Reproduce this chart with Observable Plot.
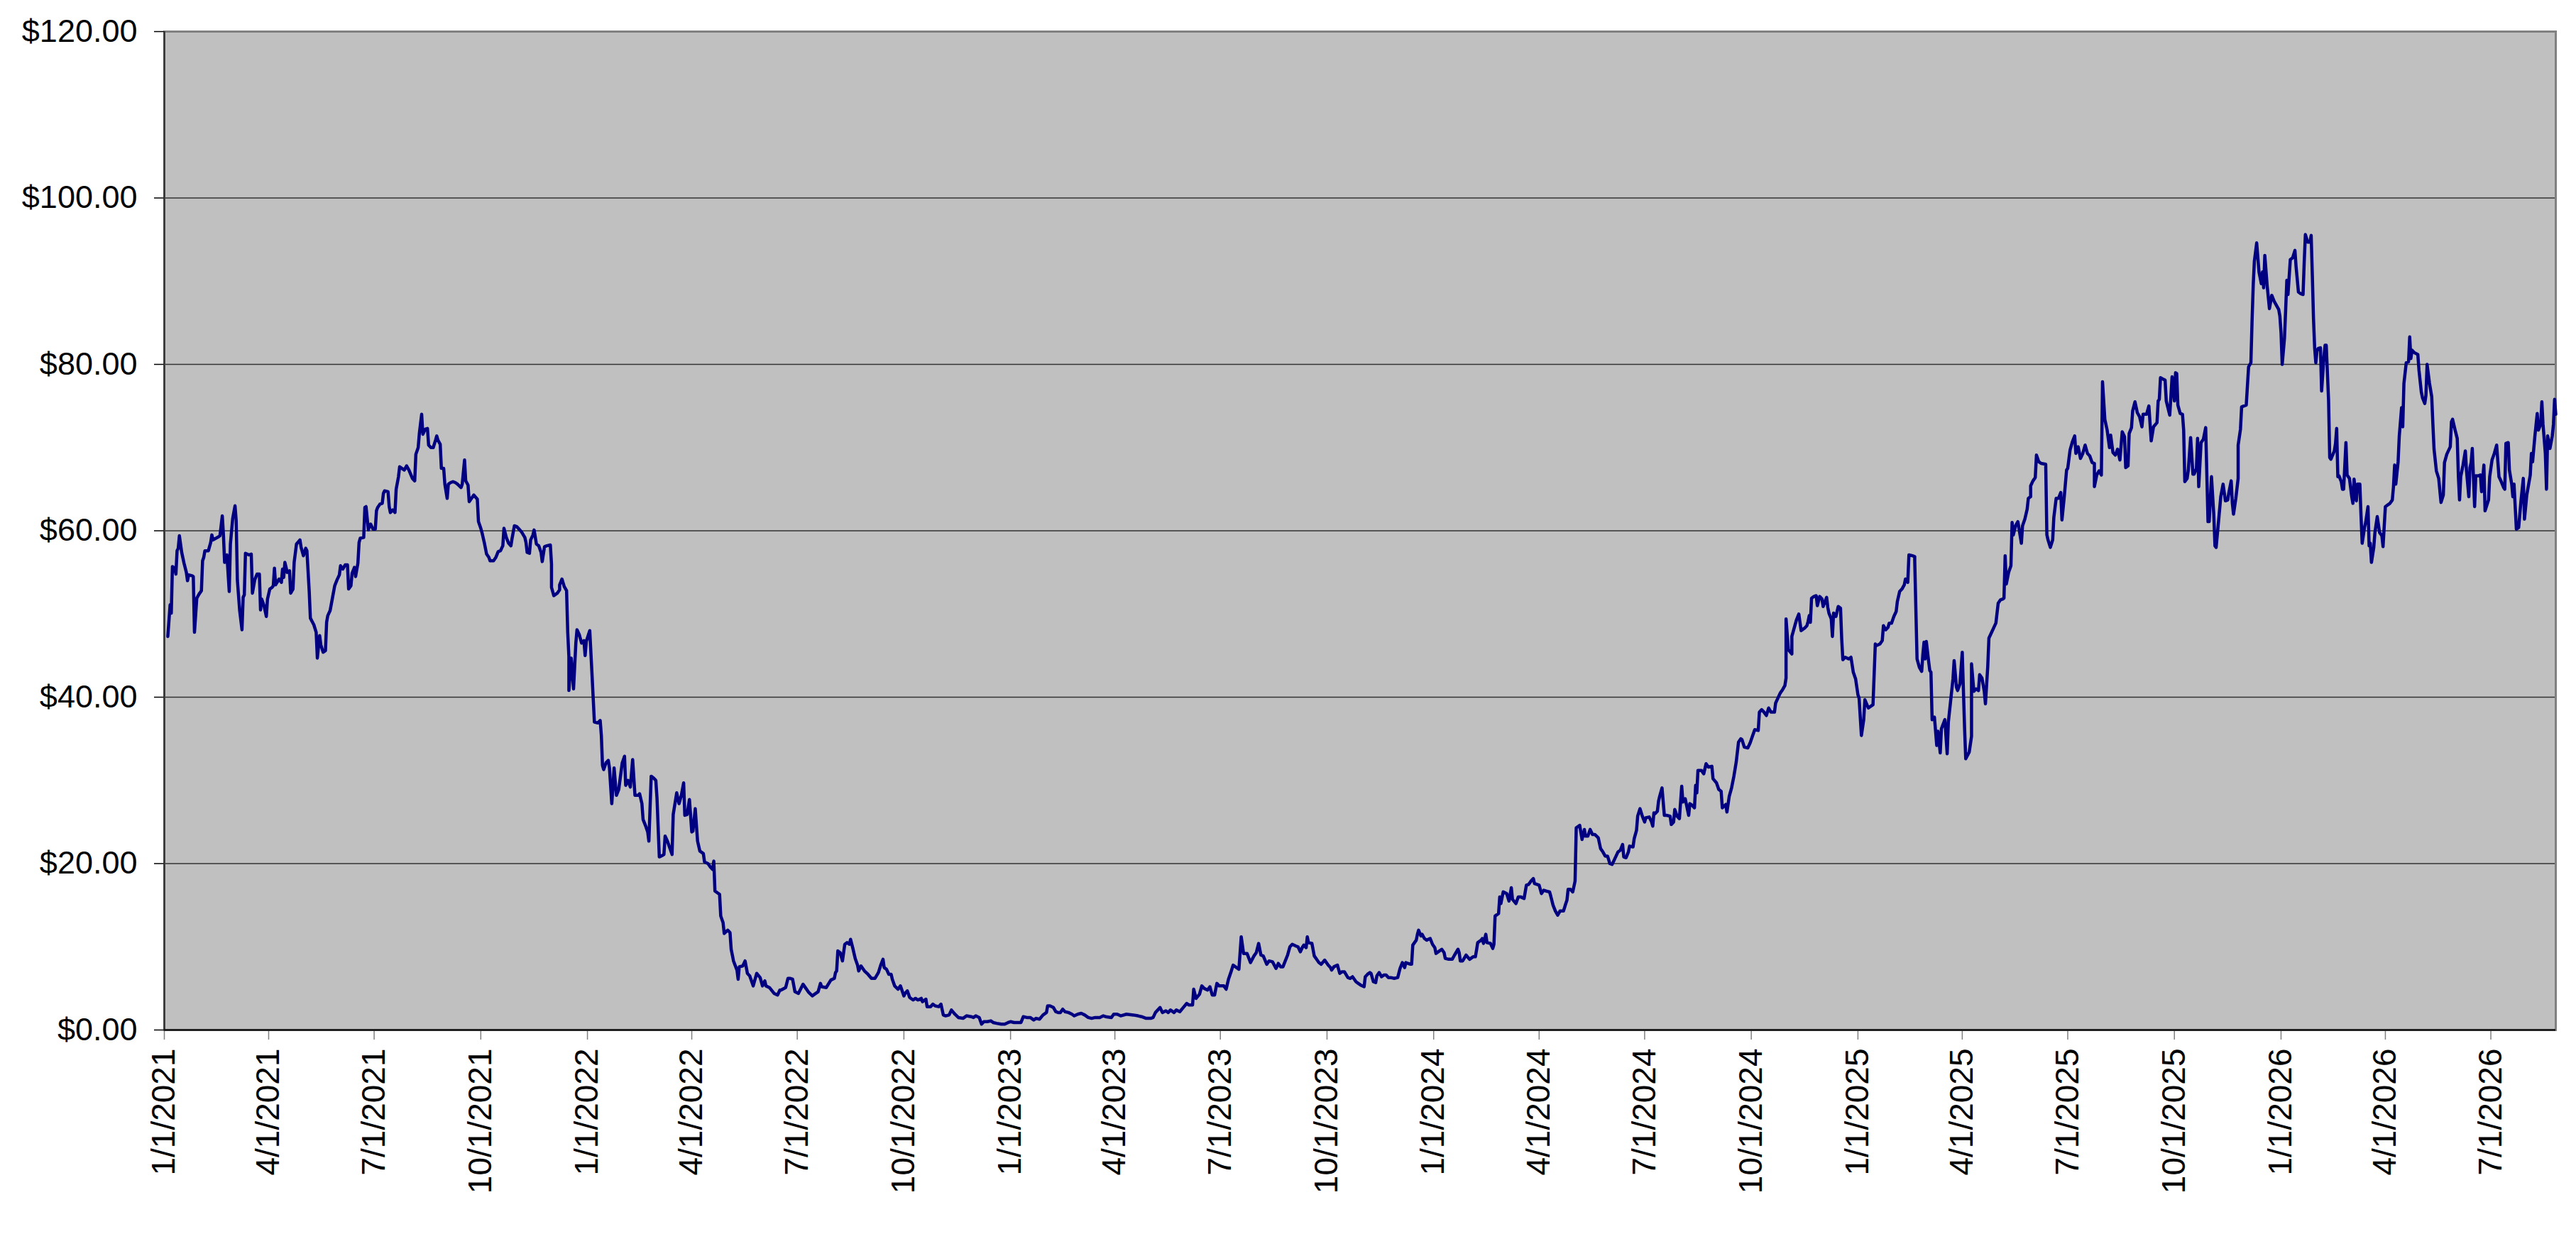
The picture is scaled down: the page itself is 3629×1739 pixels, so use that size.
<!DOCTYPE html>
<html>
<head>
<meta charset="utf-8">
<script src="https://cdn.jsdelivr.net/npm/d3@7"></script>
<script src="https://cdn.jsdelivr.net/npm/@observablehq/plot@0.6"></script>
<style>
  html, body { margin: 0; padding: 0; background: #ffffff; }
  #chart svg { display: block; }
</style>
</head>
<body>
<div id="chart"></div>
<script>
// Series start: days are counted from 1/1/2021
const seriesStart = "2021-01-01";
const axisEnd = "2026-08-26";

// Days since 1/1/2021 (x values)
const dayOffsets = [
3,5,6,7,9,10,11,12,13,15,
17,19,20,21,24,25,26,28,30,32,
33,34,35,38,40,41,42,47,48,50,
51,52,54,56,57,59,61,62,63,65,
67,68,69,70,73,75,76,78,80,82,
83,84,86,88,89,91,93,94,95,96,
99,101,102,103,104,106,108,109,111,112,
114,117,118,120,122,123,125,126,129,131,
132,134,135,137,139,140,141,143,145,147,
149,151,152,154,156,158,159,161,162,164,
165,167,168,169,172,173,174,176,177,178,
180,182,183,184,186,188,189,190,193,194,
195,197,199,200,202,203,205,207,209,211,
214,216,217,219,220,222,223,225,227,228,
230,232,234,235,236,238,239,241,242,244,
245,247,249,251,253,256,257,259,260,262,
263,265,267,270,271,273,274,276,278,280,
281,284,286,288,290,292,293,295,297,299,
300,302,304,306,308,311,312,313,315,316,
318,319,321,323,325,326,328,330,333,334,
334,336,339,341,341,343,345,347,348,349,
349,351,353,355,356,358,360,362,363,364,
367,369,370,371,374,376,377,378,379,381,
383,384,386,387,388,390,392,395,397,398,
400,402,404,406,409,410,412,413,415,417,
418,420,422,424,425,427,430,431,432,434,
436,438,439,442,444,446,448,449,451,453,
455,456,458,460,462,465,466,469,471,473,
474,475,477,479,480,482,483,486,488,489,
491,494,495,496,499,501,503,505,508,511,
514,516,518,519,522,526,529,531,532,536,
538,540,542,544,547,551,552,556,559,562,
564,566,567,571,575,578,579,580,581,583,
585,587,589,591,592,594,596,598,599,601,
604,607,610,613,616,618,620,621,623,625,
627,628,630,633,635,638,639,641,643,646,
648,650,653,654,657,658,661,663,665,668,
670,672,674,677,679,682,685,689,692,696,
698,700,703,705,707,710,713,715,718,722,
725,728,730,733,736,739,741,744,747,750,
752,755,758,761,762,764,767,769,771,773,
775,777,780,783,785,788,791,794,797,800,
803,807,810,812,817,819,822,825,830,836,
840,843,847,851,853,855,859,861,864,866,
868,871,873,876,879,882,884,887,888,890,
893,895,897,900,902,904,906,908,910,912,
914,916,918,920,922,925,927,929,931,934,
937,940,942,944,946,948,951,953,956,959,
961,963,965,967,969,971,973,976,978,980,
982,983,985,986,987,990,992,994,996,998,
1001,1004,1006,1007,1009,1012,1014,1016,1018,1021,
1023,1025,1026,1028,1030,1032,1035,1036,1038,1040,
1041,1043,1045,1046,1048,1050,1052,1054,1056,1058,
1061,1064,1066,1068,1070,1071,1075,1076,1077,1080,
1081,1082,1084,1085,1087,1089,1092,1094,1096,1097,
1100,1102,1104,1105,1108,1111,1113,1116,1117,1118,
1120,1123,1126,1129,1131,1132,1133,1136,1137,1138,
1140,1141,1144,1146,1147,1148,1151,1152,1153,1155,
1158,1160,1162,1163,1166,1168,1170,1173,1175,1177,
1179,1181,1182,1186,1188,1190,1192,1195,1196,1198,
1200,1202,1204,1207,1209,1210,1211,1213,1215,1217,
1218,1220,1221,1223,1225,1226,1228,1230,1232,1234,
1237,1239,1241,1243,1245,1247,1249,1252,1254,1256,
1258,1259,1261,1263,1264,1267,1268,1270,1271,1273,
1275,1277,1278,1281,1283,1284,1285,1286,1288,1289,
1290,1292,1294,1296,1299,1300,1302,1303,1305,1307,
1309,1310,1312,1315,1316,1318,1320,1321,1322,1323,
1326,1328,1330,1332,1335,1336,1339,1341,1343,1344,
1347,1348,1350,1352,1354,1356,1358,1360,1361,1363,
1366,1368,1370,1372,1375,1376,1378,1380,1382,1384,
1386,1389,1390,1392,1394,1396,1398,1399,1399,1401,
1404,1404,1406,1408,1410,1412,1415,1417,1418,1419,
1420,1421,1423,1425,1426,1428,1430,1431,1434,1435,
1436,1438,1439,1440,1442,1444,1446,1447,1448,1450,
1453,1455,1457,1459,1461,1462,1464,1466,1467,1470,
1472,1474,1476,1477,1480,1482,1483,1485,1487,1488,
1490,1492,1494,1495,1497,1499,1501,1502,1504,1505,
1508,1510,1510,1512,1514,1516,1517,1518,1519,1520,
1522,1523,1524,1525,1527,1529,1530,1532,1533,1536,
1538,1539,1541,1543,1544,1546,1547,1549,1551,1553,
1554,1557,1559,1559,1561,1563,1565,1566,1568,1570,
1571,1573,1574,1576,1579,1580,1582,1584,1586,1587,
1588,1589,1591,1593,1594,1595,1597,1599,1602,1603,
1605,1607,1608,1610,1610,1612,1614,1615,1617,1619,
1623,1624,1625,1627,1629,1630,1632,1634,1636,1637,
1639,1641,1642,1644,1646,1648,1649,1651,1653,1655,
1657,1659,1661,1663,1665,1665,1667,1669,1671,1672,
1674,1676,1678,1679,1681,1683,1685,1687,1689,1691,
1692,1694,1695,1697,1698,1700,1702,1704,1706,1707,
1710,1712,1714,1716,1719,1720,1721,1722,1726,1727,
1730,1732,1734,1735,1736,1737,1739,1741,1742,1743,
1745,1746,1748,1750,1751,1753,1754,1755,1757,1759,
1761,1763,1764,1766,1768,1769,1770,1772,1774,1776,
1778,1780,1781,1783,1784,1785,1787,1789,1789,1791,
1792,1796,1797,1798,1800,1801,1802,1803,1805,1807,
1809,1810,1811,1812,1814,1816,1818,1820,1824,1825,
1826,1827,1829,1830,1831,1832,1834,1836,1838,1839,
1841,1843,1845,1846,1847,1849,1851,1852,1853,1854,
1855,1856,1857,1858,1860,1861,1863,1864,1865,1867,
1868,1869,1872,1873,1874,1875,1876,1878,1879,1880,
1882,1883,1885,1887,1888,1889,1891,1892,1894,1895,
1896,1898,1899,1901,1902,1903,1904,1906,1907,1909,
1911,1913,1914,1916,1918,1920,1922,1923,1924,1925,
1927,1928,1930,1931,1932,1934,1936,1937,1938,1939,
1941,1944,1945,1947,1948,1950,1951,1952,1954,1956,
1957,1958,1960,1962,1964,1966,1967,1969,1972,1973,
1974,1976,1978,1979,1980,1981,1983,1985,1986,1988,
1989,1990,1991,1993,1994,1996,1998,1999,2001,2002,
2005,2006,2008,2010,2012,2014,2016,2018,2019,2020,
2022,2023,2025,2026,2027,2029,2031,2033,2035,2036,
2038,2041,2042,2043,2045,2047,2048,2050,2051,2052,
2054,2055,2056,2058,2060,2061,2062,2063
];

// Price in dollars at each of those days
const prices = [
47.3,51.1,50.1,55.7,55.5,54.8,57.6,57.9,59.4,57.4,
56.1,55.0,54.0,54.7,54.6,54.5,47.8,51.9,52.4,52.8,
56.4,56.8,57.6,57.6,58.6,59.5,58.9,59.3,59.4,61.8,
59.5,56.2,57.1,52.7,58.4,61.5,63.0,61.2,54.1,50.4,
48.1,52.0,52.3,57.3,57.1,57.2,52.5,54.1,54.8,54.8,
50.5,51.8,51.0,49.7,51.8,53.0,53.2,53.4,55.5,53.5,
54.2,53.8,55.4,54.4,56.2,55.0,55.2,52.5,53.0,56.2,
58.4,58.9,58.0,57.0,57.9,57.6,52.7,49.5,48.7,47.8,
44.7,47.4,46.3,45.4,45.6,49.0,49.8,50.4,51.9,53.4,
54.1,54.7,55.8,55.4,55.9,55.9,53.0,53.4,54.9,55.6,
54.5,56.1,58.6,59.1,59.2,62.8,62.9,60.1,60.6,60.8,
60.2,60.2,62.4,62.8,63.2,63.3,64.5,64.8,64.7,62.9,
62.2,62.5,62.2,65.0,66.5,67.7,67.5,67.3,67.8,67.3,
66.3,66.0,69.2,70.0,71.7,74.0,71.6,72.2,72.3,70.3,
70.0,70.0,70.9,71.4,70.9,70.4,67.5,67.5,65.6,63.9,
65.6,65.8,65.9,65.8,65.6,65.2,65.6,68.5,66.0,65.5,
63.5,63.9,64.3,63.8,61.1,60.3,59.8,58.6,57.2,56.8,
56.4,56.4,56.8,57.5,57.6,58.2,60.3,59.2,58.5,58.2,
59.1,60.6,60.5,60.2,59.9,59.2,58.6,57.4,57.3,58.9,
59.5,60.1,58.4,58.2,57.4,56.3,58.1,58.2,58.3,56.0,
53.2,52.2,52.5,52.9,53.5,54.2,53.3,52.8,47.8,44.9,
40.8,44.7,41.0,46.5,48.1,47.5,46.5,46.8,45.0,46.7,
48.0,42.6,39.8,37.0,36.9,37.2,35.4,31.8,31.3,32.1,
32.4,31.5,27.2,29.2,31.5,28.2,28.9,32.1,32.9,29.4,
30.0,29.2,32.5,28.2,28.2,28.4,27.2,25.3,24.6,23.8,
22.7,30.5,30.3,30.0,27.9,20.8,21.0,21.1,23.3,22.7,
21.9,21.1,25.9,28.5,27.2,28.2,29.7,25.8,25.9,27.7,
23.8,23.9,26.6,22.7,21.5,21.2,20.2,20.0,19.6,19.3,
20.3,16.7,16.5,16.3,13.7,12.9,11.6,12.0,11.7,9.7,
8.3,7.2,6.1,7.6,7.7,8.3,6.8,6.5,5.3,6.8,
6.3,5.3,5.9,5.3,5.1,4.4,4.2,4.8,4.8,5.1,
6.2,6.2,6.1,4.6,4.4,5.5,5.3,4.5,4.1,4.4,
4.6,5.6,5.2,5.1,6.0,6.2,6.9,7.1,9.5,9.3,
8.3,10.3,10.5,10.3,10.9,9.8,8.6,7.8,7.1,7.7,
7.1,6.7,6.2,6.2,6.9,7.8,8.5,7.5,7.3,6.7,
6.7,6.1,5.3,4.9,5.3,4.1,4.4,4.7,3.9,3.6,
3.8,3.6,3.8,3.4,3.7,2.8,2.8,3.1,2.9,2.8,
3.1,1.8,1.7,1.8,2.4,1.9,1.5,1.4,1.7,1.6,
1.5,1.7,1.5,0.7,1.0,1.0,1.1,0.9,0.8,0.7,
0.7,0.9,1.0,0.9,0.9,0.9,1.6,1.5,1.5,1.2,
1.4,1.3,1.8,2.1,2.9,2.9,2.7,2.2,2.1,2.1,
2.5,2.2,2.1,1.9,1.7,1.9,2.0,1.8,1.5,1.4,
1.5,1.5,1.7,1.6,1.5,1.9,1.9,1.7,1.9,1.8,
1.7,1.6,1.4,1.4,1.5,2.1,2.7,2.1,2.3,2.1,
2.4,2.1,2.4,2.2,2.7,3.2,3.0,3.0,4.9,3.8,
4.3,5.3,5.0,4.8,5.2,4.2,4.2,5.6,5.3,5.3,
5.3,4.9,6.1,6.9,7.8,7.5,7.3,11.2,9.2,9.2,
8.1,8.9,9.3,10.4,9.0,8.9,7.9,8.3,8.2,7.4,
8.0,7.6,7.6,8.3,9.0,10.0,10.3,10.1,10.0,9.4,
10.0,10.2,9.9,11.2,10.5,10.4,8.9,8.5,8.1,7.9,
8.4,7.8,7.5,7.2,7.6,7.8,6.8,7.0,7.0,6.3,
6.2,6.4,6.2,5.8,5.6,5.4,5.2,6.4,6.7,6.9,
6.8,5.8,5.7,6.5,6.9,6.4,6.6,6.6,6.3,6.3,
6.2,6.3,7.4,8.1,7.5,8.1,7.9,7.9,10.2,10.8,
11.5,12.0,11.3,11.5,11.0,10.8,11.0,10.3,9.9,9.2,
9.5,9.7,9.3,8.6,8.5,8.5,9.0,9.7,9.3,8.3,
8.3,9.0,8.5,8.8,8.8,9.6,10.5,10.8,11.0,10.4,
11.5,10.5,10.4,9.8,10.3,13.7,14.0,16.0,15.2,16.6,
16.4,15.5,17.1,15.7,15.2,16.0,16.0,15.8,17.4,17.5,
17.9,18.2,17.6,17.4,16.4,16.8,16.7,16.6,16.1,15.0,
14.3,13.8,14.3,14.3,15.2,15.6,16.9,16.9,16.6,17.9,
24.3,24.5,24.6,22.9,24.1,23.3,23.3,24.1,23.5,23.5,
23.1,21.8,21.4,20.9,20.9,20.0,19.9,20.8,21.4,21.6,
22.3,20.8,20.7,21.4,22.1,22.0,23.0,24.0,25.7,26.6,
25.7,25.0,25.5,25.6,25.0,24.5,26.1,26.0,26.3,27.5,
28.1,29.1,25.8,25.8,25.7,24.7,25.0,26.5,25.7,25.4,
29.3,27.4,27.8,25.8,27.2,27.0,26.7,29.4,28.5,31.2,
31.2,30.8,32.0,31.6,31.7,30.2,29.7,28.9,28.7,26.7,
27.1,26.2,28.1,29.1,30.5,32.2,34.6,35.0,34.9,34.0,
33.9,34.5,35.3,36.1,36.0,38.2,38.5,38.2,37.8,38.7,
38.2,38.2,39.3,39.9,40.5,40.9,41.4,42.3,49.4,45.7,
45.2,47.3,48.3,49.3,50.0,48.0,48.3,48.6,49.1,49.8,
49.0,51.9,52.1,52.2,51.0,52.1,51.8,50.9,52.0,50.8,
50.1,49.4,47.3,50.1,49.7,50.9,50.7,47.0,44.5,44.8,
44.6,44.8,43.0,42.2,40.3,39.9,35.4,37.3,39.7,38.7,
38.9,39.1,46.4,46.2,46.4,46.8,48.6,48.1,48.4,48.9,
48.9,49.7,50.3,51.5,52.7,53.0,53.5,54.2,53.8,57.1,
57.0,56.9,56.4,44.6,43.6,43.1,45.1,46.6,44.6,46.7,
44.3,43.2,43.0,37.3,37.6,34.2,35.9,33.3,36.2,37.3,
33.2,37.0,39.6,42.2,44.4,41.2,40.8,41.6,45.4,36.3,
32.6,33.4,35.3,44.0,40.7,41.0,40.8,42.7,42.3,40.7,
39.2,43.7,47.1,47.7,48.6,48.9,51.3,51.7,51.8,51.9,
57.0,53.6,55.0,55.8,61.0,59.5,60.6,61.1,58.5,60.6,
61.4,62.6,63.9,64.1,65.4,66.0,66.4,69.1,68.3,68.1,
68.0,59.5,58.9,58.0,58.9,61.6,63.9,63.9,64.6,61.3,
64.1,67.3,67.5,69.7,70.7,71.4,69.3,70.1,68.7,69.3,
70.3,69.3,69.0,68.2,68.1,65.3,66.7,67.2,66.7,77.9,
73.4,72.1,70.0,71.5,69.4,69.1,69.8,68.5,71.9,71.3,
67.6,67.8,71.7,72.4,74.4,75.5,74.2,73.7,72.5,74.0,
74.0,75.0,70.8,72.5,73.0,75.6,75.8,78.4,78.1,75.6,
73.9,78.5,75.6,79.0,78.9,75.1,74.1,74.0,72.1,65.9,
66.3,67.3,71.2,66.8,66.8,67.5,71.1,65.3,70.6,71.0,
72.4,61.1,61.1,66.5,61.9,58.2,58.0,61.0,64.1,65.6,
63.6,63.7,64.6,66.0,63.3,62.0,63.9,66.3,70.3,72.2,
74.9,75.1,77.4,79.7,80.2,85.2,89.5,92.4,94.6,91.1,
89.7,91.1,89.2,93.1,89.5,86.7,88.3,87.6,86.6,85.8,
83.8,80.0,83.2,86.6,90.1,88.4,92.6,92.8,93.7,91.7,
88.7,88.5,88.4,92.3,95.6,94.7,94.7,95.5,90.7,85.5,
82.0,80.2,81.6,81.9,82.0,76.8,80.9,82.3,82.3,75.7,
68.8,68.6,69.6,70.5,72.3,66.5,66.6,65.9,65.0,65.0,
70.6,66.7,66.3,64.1,63.3,66.2,63.6,65.6,65.6,61.8,
58.5,60.4,61.0,62.9,58.2,58.5,56.2,58.0,59.8,61.7,
59.8,59.4,58.1,62.9,63.1,63.3,63.7,65.3,67.9,65.6,
68.3,71.4,74.8,72.5,77.7,80.2,80.3,83.3,80.7,81.7,
81.4,81.2,79.3,76.7,76.0,75.3,76.3,80.0,77.8,76.1,
72.8,69.8,67.2,66.3,63.4,64.3,68.2,69.2,70.1,73.1,
73.4,72.2,71.1,66.5,63.7,66.5,67.9,69.6,67.2,64.1,
67.6,68.2,69.9,62.9,66.6,66.6,66.7,64.7,67.9,62.4,
63.7,66.5,68.5,69.3,70.3,66.5,65.9,65.2,65.0,70.5,
70.6,67.3,65.6,64.1,65.6,60.2,60.4,63.6,66.3,61.4,
64.3,66.7,69.3,68.3,71.4,74.1,72.1,72.8,75.5,72.8,
69.3,65.0,71.4,69.9,71.4,72.8,75.8,74.0
];

// Axis ticks
const yTicks = [0, 20, 40, 60, 80, 100, 120];
const gridValues = [20, 40, 60, 80, 100];
const xTickDates = [
  "2021-01-01","2021-04-01","2021-07-01","2021-10-01",
  "2022-01-01","2022-04-01","2022-07-01","2022-10-01",
  "2023-01-01","2023-04-01","2023-07-01","2023-10-01",
  "2024-01-01","2024-04-01","2024-07-01","2024-10-01",
  "2025-01-01","2025-04-01","2025-07-01","2025-10-01",
  "2026-01-01","2026-04-01","2026-07-01"
];

const start = new Date(seriesStart + "T00:00:00Z");
const end = new Date(axisEnd + "T00:00:00Z");
const n = Math.min(dayOffsets.length, prices.length);
const data = [];
for (let i = 0; i < n; i++) {
  data.push({date: d3.utcDay.offset(start, dayOffsets[i]), price: prices[i]});
}
const ticks = xTickDates.map(s => new Date(s + "T00:00:00Z"));
const fmtDate = d => `${d.getUTCMonth() + 1}/${d.getUTCDate()}/${d.getUTCFullYear()}`;
const fmtMoney = v => "$" + v.toFixed(2);

const chart = Plot.plot({
  width: 3629,
  height: 1739,
  marginLeft: 231,
  marginRight: 29,
  marginTop: 44,
  marginBottom: 288,
  style: {
    fontFamily: "'Liberation Sans', Arial, Helvetica, sans-serif",
    background: "#ffffff",
    color: "#000000",
    overflow: "visible"
  },
  x: {type: "utc", domain: [start, end]},
  y: {domain: [0, 120]},
  marks: [
    Plot.frame({fill: "#c0c0c0"}),
    Plot.ruleY(gridValues, {stroke: "#333333", strokeWidth: 1.5}),
    Plot.frame({stroke: "#808080", strokeWidth: 3}),
    Plot.lineY(data, {x: "date", y: "price", stroke: "#000080", strokeWidth: 4.5, strokeLinejoin: "round"}),
    Plot.axisY({
      ticks: yTicks, tickFormat: fmtMoney, tickSize: 14, tickPadding: 24,
      fontSize: 45, stroke: "#000000", strokeWidth: 1.5, label: null
    }),
    Plot.axisX({
      ticks: ticks, tickFormat: fmtDate, tickRotate: -90, tickSize: 14, tickPadding: 12,
      fontSize: 46, stroke: "#808080", strokeWidth: 1.5, label: null
    }),
    Plot.ruleX([start], {stroke: "#333333", strokeWidth: 2.5}),
    Plot.ruleY([0], {stroke: "#111111", strokeWidth: 2.5})
  ]
});
document.getElementById("chart").appendChild(chart);
</script>
</body>
</html>
